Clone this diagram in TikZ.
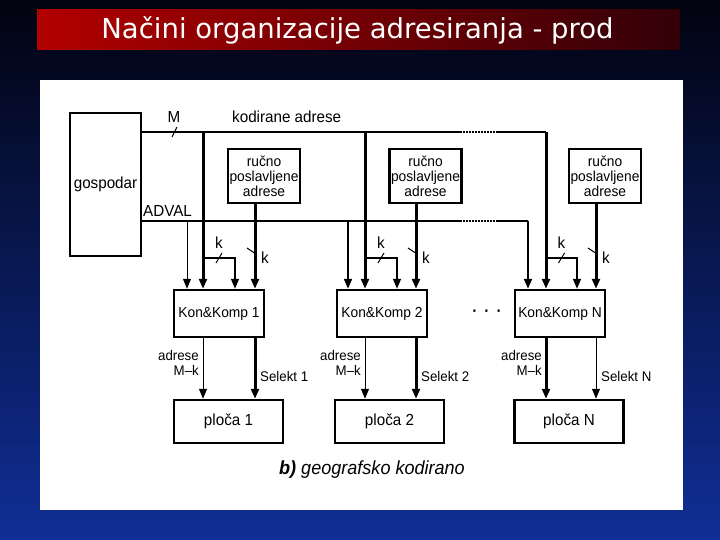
\documentclass[tikz,border=0pt]{standalone}
\usepackage{fontspec}
\setmainfont{Liberation Sans}[FakeStretch=0.95]
\newfontfamily\naslovfont{DejaVu Sans}
\usetikzlibrary{arrows.meta,positioning}

\definecolor{pozgore}{RGB}{2,3,16}
\definecolor{pozsred}{RGB}{5,16,62}
\definecolor{pozdolje}{RGB}{16,46,150}
\definecolor{naslovL}{RGB}{178,0,0}
\definecolor{naslovD}{RGB}{50,0,8}

\tikzset{
  blok/.style={draw, line width=2.5pt, fill=white, inner sep=1pt},
  sabirnica/.style={line width=2pt},
  tockasta/.style={line width=1.5pt, dash pattern=on 1.5pt off 1.5pt},
  strelica/.style={-{Triangle[length=10pt,width=8pt]}},
  debela/.style={strelica, line width=3pt},
  crtica/.style={line width=1pt},
  natpis/.style={font=\fontsize{16}{16}\selectfont, inner sep=1pt},
  mali/.style={font=\fontsize{14}{15}\selectfont, inner sep=0pt}
}

\begin{document}
\begin{tikzpicture}[x=1pt,y=-1pt]
  \useasboundingbox (0,0) rectangle (720,540);
  % pozadina i naslov
  \shade[top color=pozgore, middle color=pozsred, bottom color=pozdolje] (0,0) rectangle (720,540);
  \shade[left color=naslovL, right color=naslovD] (37,10) rectangle (680,50);
  \node[text=white, font=\naslovfont\fontsize{27.5}{28}\selectfont] (naslov) at (357.5,30) {Načini organizacije adresiranja - prod};
  \fill[white] (40,80) rectangle (683,510);

  % blokovi
  \node[blok, natpis, minimum width=71pt, minimum height=143pt] (gosp) at (105.5,184.5) {gospodar};
  \foreach \n/\x/\r/\p in {1/174/264/228.5, 2/337/425.5/389.5, N/515/605/569} {
    \node[blok, align=center, font=\fontsize{14.5}{15}\selectfont, minimum width=72pt, minimum height=54pt] (ruc\n) at (\r,176) {ručno\\poslavljene\\adrese};
    \node[blok, font=\fontsize{14.5}{15}\selectfont, minimum width=90pt, minimum height=47pt] (kk\n) at (\x+45,313.5) {Kon\&Komp \n};
    \node[blok, natpis, minimum width=109pt, minimum height=43pt] (pl\n) at (\p,421.5) {ploča \n};
  }

  % sabirnice
  \coordinate (kodA) at (460,132);
  \coordinate (kodB) at (497,132);
  \coordinate (advA) at (460,221);
  \coordinate (advB) at (498,221);
  \coordinate (bN) at (546,132);
  \coordinate (vN) at (528,221);
  \draw[sabirnica] (gosp.east |- kodA) -- (kodA);
  \draw[tockasta] (kodA) -- (kodB);
  \draw[sabirnica] (kodB) -- (bN);
  \draw[sabirnica] (gosp.east |- advA) -- (advA);
  \draw[tockasta] (advA) -- (advB);
  \draw[sabirnica] (advB) -- (vN);
  \draw[crtica] (172,137) -- (177,127);
  \node[natpis] (m) at (174,117) {M};
  \node[natpis, anchor=west] (kod) at (231,117) {kodirane adrese};
  \node[natpis, anchor=base west, inner sep=0pt] (adval) at (143,217) {ADVAL};

  % veze modula
  \foreach \n/\v/\b/\s/\c/\wv/\wa/\ws in {1/187/203/235/255/1/1/3, 2/348/365/397/416/2/1/3, N/528/546/577/596/2/3/1} {
    \coordinate (v\n) at (\v,221);
    \coordinate (b\n) at (\b,132);
    \coordinate (s\n) at (\s,258);
    \coordinate (c\n) at (\c,258);
    \draw[strelica, line width=\wv pt] (v\n) -- (kk\n.north -| v\n);
    \draw[debela] (b\n) -- (kk\n.north -| b\n);
    \draw[strelica, line width=1.5pt] (b\n |- s\n) -- (s\n) -- (kk\n.north -| s\n);
    \draw[debela] (ruc\n.south -| c\n) -- (kk\n.north -| c\n);
    \draw[crtica] (\b/2+\s/2-3,263) -- ++(6,-10);
    \node[natpis] (kg\n) at (\b/2+\s/2,243) {k};
    \draw[crtica] (\c-8,248) -- (\c+1,254);
    \node[natpis, anchor=west] (kd\n) at (\c+5,258) {k};
    \draw[strelica, line width=\wa pt] (kk\n.south -| b\n) -- (pl\n.north -| b\n);
    \draw[strelica, line width=\ws pt] (kk\n.south -| c\n) -- (pl\n.north -| c\n);
    \node[mali, anchor=east, align=right] (adr\n) at (\b-4,363) {adrese\\M--k};
    \node[mali, anchor=west] (sel\n) at (\c+5,376) {Selekt \n};
  }

  \node[natpis, font=\bfseries\fontsize{16}{16}\selectfont] (tocke) at (487,313) {·\hspace{7pt}·\hspace{7pt}·};
  \node[font=\itshape\fontsize{19}{19}\selectfont] (opis) at (372,470) {\textbf{b)} geografsko kodirano};
\end{tikzpicture}
\end{document}
